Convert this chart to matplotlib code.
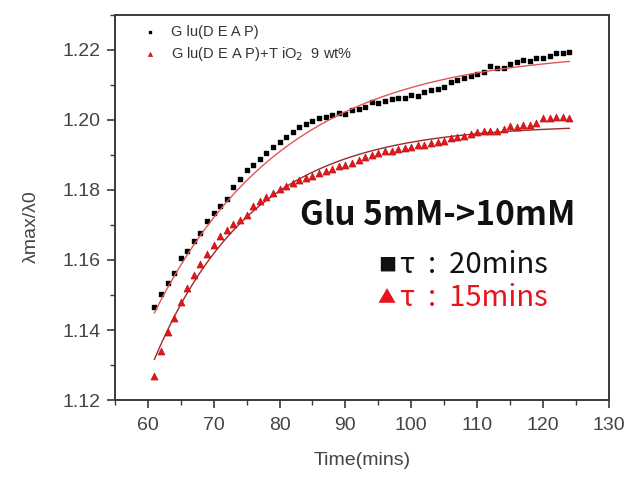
import numpy as np
import matplotlib.pyplot as plt
from matplotlib.ticker import MultipleLocator

# time points (minutes), one sample per minute
time_min = list(range(61, 125))

glu_deap = [
    1.1465, 1.1503, 1.1533, 1.1564, 1.1605, 1.1626, 1.1655, 1.1678, 1.1710, 1.1733,
    1.1754, 1.1775, 1.1807, 1.1830, 1.1857, 1.1871, 1.1888, 1.1905, 1.1922, 1.1938,
    1.1952, 1.1965, 1.1979, 1.1989, 1.1998, 1.2004, 1.2008, 1.2013, 1.2021, 1.2017,
    1.2027, 1.2031, 1.2036, 1.2052, 1.2048, 1.2055, 1.2059, 1.2062, 1.2062, 1.2071,
    1.2069, 1.2081, 1.2086, 1.2088, 1.2095, 1.2109, 1.2114, 1.2121, 1.2124, 1.2131,
    1.2138, 1.2154, 1.2149, 1.2149, 1.2160, 1.2165, 1.2171, 1.2169, 1.2178, 1.2176,
    1.2183, 1.2190, 1.2190, 1.2194,
]

glu_deap_tio2 = [
    1.1269, 1.1341, 1.1395, 1.1433, 1.1481, 1.1520, 1.1557, 1.1589, 1.1617, 1.1643,
    1.1669, 1.1686, 1.1703, 1.1714, 1.1729, 1.1754, 1.1769, 1.1781, 1.1792, 1.1803,
    1.1811, 1.1819, 1.1827, 1.1833, 1.1840, 1.1848, 1.1855, 1.1861, 1.1867, 1.1871,
    1.1878, 1.1886, 1.1893, 1.1900, 1.1905, 1.1912, 1.1910, 1.1916, 1.1919, 1.1922,
    1.1928, 1.1929, 1.1933, 1.1938, 1.1940, 1.1948, 1.1951, 1.1954, 1.1960, 1.1964,
    1.1967, 1.1969, 1.1969, 1.1973, 1.1983, 1.1981, 1.1986, 1.1986, 1.1990, 1.2005,
    1.2005, 1.2008, 1.2008, 1.2005,
]

# exponential fits: y = plateau - amp * exp(-(t - t0) / tau)
fit_t0 = 61
fit_black = {"plateau": 1.2199, "amp": 0.0750, "tau": 20}
fit_red = {"plateau": 1.1986, "amp": 0.0670, "tau": 15}

axis_gray = "#3a3a3a"
text_gray = "#444444"
red = "#e8141c"

plt.rcParams["font.family"] = ["Liberation Sans", "DejaVu Sans"]

fig = plt.figure(figsize=(6.31, 4.78), dpi=100)
ax = fig.add_axes([0.182, 0.163, 0.783, 0.806])

t = np.array(time_min, dtype=float)
t_fit = np.linspace(time_min[0], time_min[-1], 200)


def fit_curve(p, x):
    return p["plateau"] - p["amp"] * np.exp(-(x - fit_t0) / p["tau"])


ax.scatter(t, glu_deap, marker="s", s=11, color="black", zorder=3,
           label="G lu(D E A P)")
ax.scatter(t, glu_deap_tio2, marker="^", s=26, color=red, edgecolors="#b01010",
           linewidths=0.4, zorder=3, label="G lu(D E A P)+T iO$_2$  9 wt%")
ax.plot(t_fit, fit_curve(fit_black, t_fit), color="#e25555", lw=1.0, zorder=4)
ax.plot(t_fit, fit_curve(fit_red, t_fit), color="#9c2a2a", lw=1.0, zorder=2)

ax.set_xlim(55, 130)
ax.set_ylim(1.12, 1.23)
ax.xaxis.set_major_locator(MultipleLocator(10))
ax.xaxis.set_minor_locator(MultipleLocator(5))
ax.yaxis.set_major_locator(MultipleLocator(0.02))
ax.yaxis.set_minor_locator(MultipleLocator(0.01))
ax.yaxis.set_major_formatter(plt.FormatStrFormatter("%.2f"))

for side in ["left", "bottom", "top", "right"]:
    ax.spines[side].set_color(axis_gray)
    ax.spines[side].set_linewidth(1.4)
ax.tick_params(which="major", direction="out", length=6, width=1.2,
               color=axis_gray, labelsize=14, labelcolor=text_gray, pad=4)
ax.tick_params(axis="x", which="major", pad=6)
ax.tick_params(which="minor", direction="out", length=3.5, width=1.0,
               color=axis_gray)

ax.set_xlabel("Time(mins)", fontsize=14, color=text_gray, labelpad=13)
ax.set_ylabel("λmax/λ0", fontsize=14, color=text_gray)
ax.yaxis.set_label_coords(-0.152, 0.45)

leg = ax.legend(loc="upper left", frameon=False, fontsize=10.5,
                handletextpad=0.5, borderaxespad=0.3, labelspacing=0.42,
                markerscale=0.6, bbox_to_anchor=(0.02, 1.0))
for txt in leg.get_texts():
    txt.set_color("#333333")

cjk = ["Noto Sans CJK KR", "DejaVu Sans"]
ax.text(0.375, 0.48, "Glu 5mM->10mM", transform=ax.transAxes, fontsize=24,
        fontweight="bold", family=cjk, color="#111111", va="center")
ax.text(0.534, 0.35, "■", transform=ax.transAxes, fontsize=13,
        family=cjk, color="#111111", va="center")
ax.text(0.577, 0.35, "τ  :  20mins", transform=ax.transAxes, fontsize=21,
        family=cjk, color="#111111", va="center")
ax.text(0.532, 0.265, "▲", transform=ax.transAxes, fontsize=13,
        family=cjk, color=red, va="center")
ax.text(0.577, 0.265, "τ  :  15mins", transform=ax.transAxes, fontsize=21,
        family=cjk, color=red, va="center")

fig.savefig("out.png", dpi=100)
